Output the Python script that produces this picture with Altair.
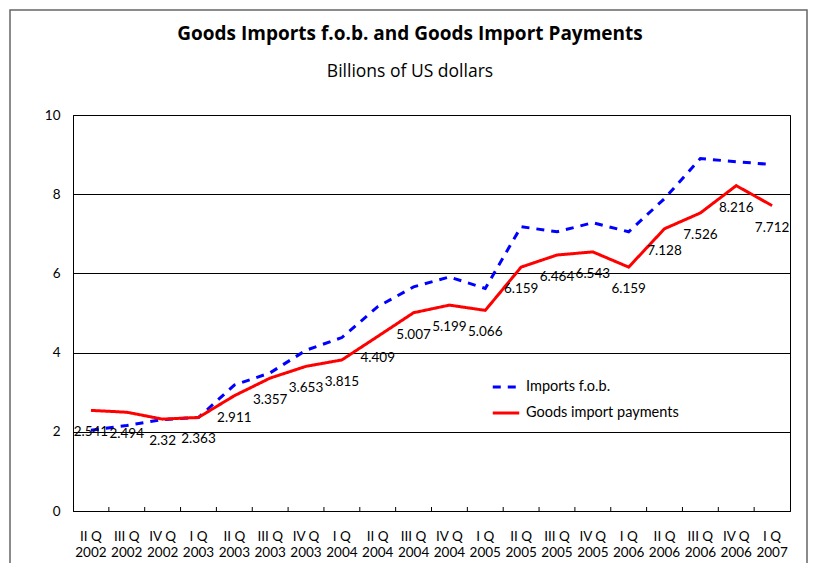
import altair as alt
import pandas as pd

quarters = ["II Q|2002", "III Q|2002", "IV Q|2002", "I Q|2003", "II Q|2003",
            "III Q|2003", "IV Q|2003", "I Q|2004", "II Q|2004", "III Q|2004",
            "IV Q|2004", "I Q|2005", "II Q|2005", "III Q|2005", "IV Q|2005",
            "I Q|2006", "II Q|2006", "III Q|2006", "IV Q|2006", "I Q|2007"]
imports_fob = [2.04, 2.16, 2.31, 2.36, 3.18, 3.49, 4.06, 4.38, 5.16, 5.66,
               5.91, 5.62, 7.18, 7.05, 7.28, 7.05, 7.89, 8.90, 8.82, 8.75]
payments = [2.541, 2.494, 2.32, 2.363, 2.911, 3.357, 3.653, 3.815, 4.409, 5.007,
            5.199, 5.066, 6.159, 6.464, 6.543, 6.159, 7.128, 7.526, 8.216, 7.712]
series_names = ["Imports f.o.b.", "Goods import payments"]
series_colors = ["#0000ff", "#ff0000"]
y_ticks = [0, 2, 4, 6, 8, 10]
title_text = "Goods Imports f.o.b. and Goods Import Payments"
subtitle_text = "Billions of US dollars"

FONT = "Lato"
TFONT = "Open Sans"

df = pd.DataFrame({
    "quarter": quarters * 2,
    "series": [series_names[0]] * len(quarters) + [series_names[1]] * len(quarters),
    "value": imports_fob + payments,
})
lab = pd.DataFrame({
    "quarter": quarters,
    "value": payments,
    "label": [f"{v:g}" for v in payments],
})
tick_df = pd.DataFrame({"quarter": quarters[1:]})
frame_df = pd.DataFrame({"k": [0]})
title_df = pd.DataFrame({"t": [title_text]})
subtitle_df = pd.DataFrame({"t": [subtitle_text]})

xscale = alt.Scale(type="band", domain=quarters, paddingInner=0, paddingOuter=0)
yscale = alt.Scale(domain=[0, 10])

x_axis = alt.Axis(
    title=None, labelExpr="split(datum.label, '|')", labelAngle=0,
    ticks=False, domain=True, domainColor="black", labelColor="black",
    labelFont=FONT, labelFontSize=13.5, labelLineHeight=16, labelPadding=18,
    grid=False,
)
y_axis = alt.Axis(
    title=None, values=y_ticks, ticks=False, domain=True, domainColor="black",
    grid=True, gridColor="black", gridOpacity=1, gridWidth=1,
    labelColor="black", labelFont=FONT, labelFontSize=13.5, labelPadding=13,
)

lines = alt.Chart(df).mark_line(strokeWidth=3).encode(
    x=alt.X("quarter:N", sort=quarters, scale=xscale, axis=x_axis, bandPosition=0.5),
    y=alt.Y("value:Q", scale=yscale, axis=y_axis),
    color=alt.Color("series:N", scale=alt.Scale(domain=series_names, range=series_colors),
                    legend=alt.Legend(title=None)),
    strokeDash=alt.StrokeDash("series:N",
                              scale=alt.Scale(domain=series_names, range=[[8, 7], [1, 0]]),
                              legend=alt.Legend(title=None)),
)

labels = alt.Chart(lab).mark_text(dy=22, font=FONT, fontSize=13.5, color="black").encode(
    x=alt.X("quarter:N", sort=quarters, scale=xscale, bandPosition=0.5),
    y=alt.Y("value:Q", scale=yscale),
    text="label:N",
)

ticks = alt.Chart(tick_df).mark_rule(color="black", strokeWidth=1).encode(
    x=alt.X("quarter:N", sort=quarters, scale=xscale, bandPosition=0),
    y=alt.value(396), y2=alt.value(392),
)

frame = alt.Chart(frame_df).mark_rect(fillOpacity=0, stroke="#666666", strokeWidth=1.5).encode(
    x=alt.value(-63), x2=alt.value(734), y=alt.value(-105), y2=alt.value(480),
)

title = alt.Chart(title_df).mark_text(
    font=TFONT, fontSize=19, fontWeight="bold", color="black", align="center", baseline="alphabetic",
).encode(text="t:N", x=alt.value(337), y=alt.value(-75))

subtitle = alt.Chart(subtitle_df).mark_text(
    font=TFONT, fontSize=17.5, color="black", align="center", baseline="alphabetic",
).encode(text="t:N", x=alt.value(337), y=alt.value(-38))

chart = alt.layer(frame, lines, ticks, labels, title, subtitle).properties(
    width=717, height=396,
    autosize=alt.AutoSizeParams(type="none"),
    padding={"left": 65, "top": 107, "right": 19, "bottom": 52},
).configure_view(
    stroke="black", strokeWidth=1,
).configure_legend(
    orient="none", legendX=418, legendY=257, symbolType="stroke",
    symbolStrokeWidth=3, symbolSize=700, labelFont=FONT, labelFontSize=14.5,
    labelColor="black", rowPadding=4, labelOffset=5,
)

chart.save("out.html", embed_options={"renderer": "svg", "actions": False})
